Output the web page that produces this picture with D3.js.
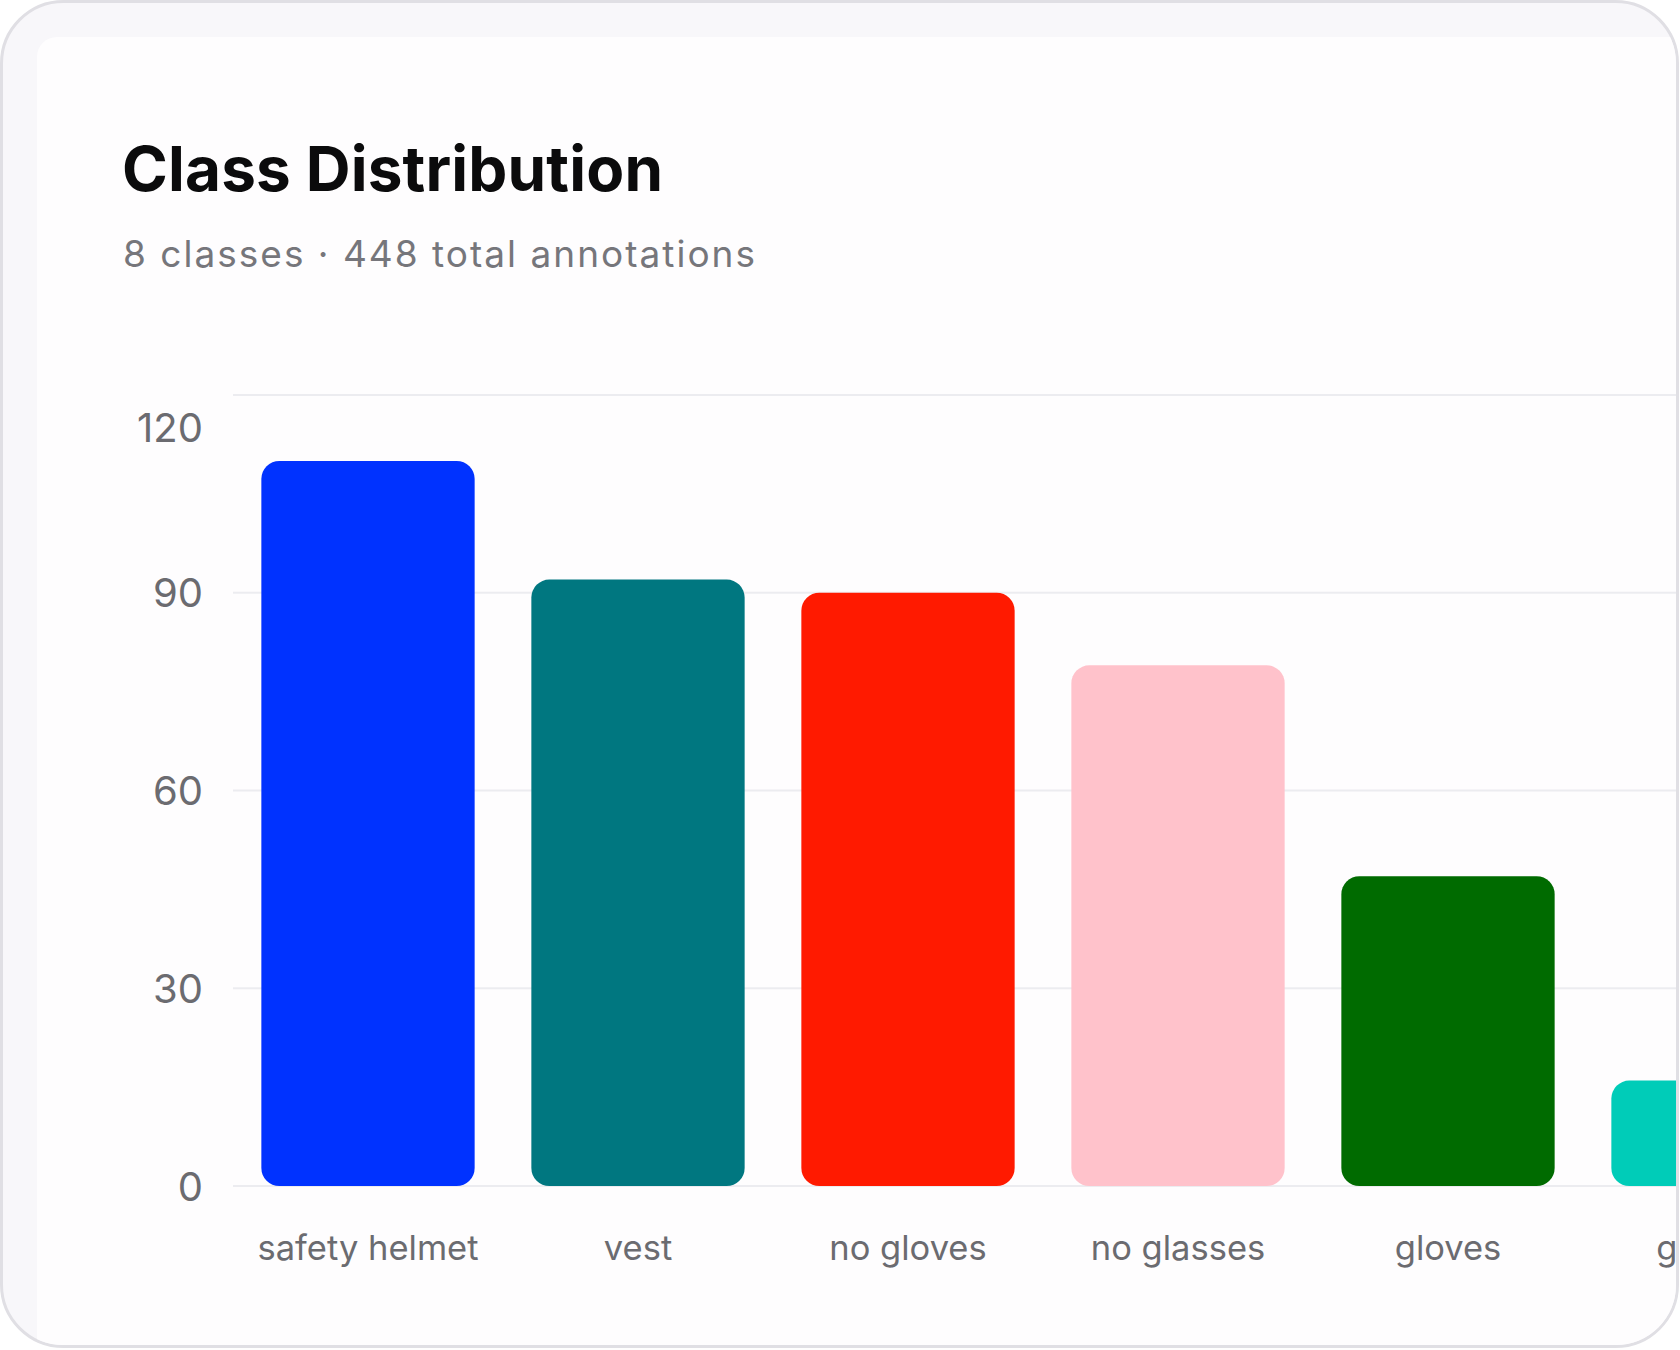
<!DOCTYPE html>
<html>
<head>
<meta charset="utf-8">
<script src="https://cdn.jsdelivr.net/npm/d3@7"></script>
<style>
  body { margin: 0; background: #fff; }
  text { font-family: Inter, 'Noto Sans', sans-serif; }
</style>
</head>
<body>
<script>
// Data
const classes = ['safety helmet', 'vest', 'no gloves', 'no glasses', 'gloves', 'glasses', 'no vest', 'no helmet']
const counts = [110, 92, 90, 79, 47, 16, 9, 5]
const colors = ['#0032ff', '#007780', '#ff1a00', '#ffc2cb', '#006b00', '#00ccb8', '#7a3cc8', '#ff9f1a']
const yTicks = [0, 30, 60, 90, 120]

const width = 1680
const height = 1350
const plotLeft = 233
const step = 270
const plotTop = 395
const plotBottom = 1186

const data = classes.map((c, i) => ({ name: c, count: counts[i], color: colors[i] }))

const svg = d3.select('body')
  .append('svg')
  .attr('width', width)
  .attr('height', height)

// Card
const defs = svg.append('defs')
defs.append('clipPath')
  .attr('id', 'card-clip')
  .append('rect')
  .attr('x', 3)
  .attr('y', 3)
  .attr('width', 1673)
  .attr('height', 1342)
  .attr('rx', 60)

svg.append('rect')
  .attr('x', 1.5)
  .attr('y', 1.5)
  .attr('width', 1676)
  .attr('height', 1345)
  .attr('rx', 62)
  .attr('fill', '#f8f7fa')
  .attr('stroke', '#e0dfe4')
  .attr('stroke-width', 3)

const inner = svg.append('g')
  .attr('clip-path', 'url(#card-clip)')

inner.append('rect')
  .attr('x', 37)
  .attr('y', 37)
  .attr('width', 1700)
  .attr('height', 1400)
  .attr('rx', 20)
  .attr('fill', '#fefdfe')

// Title
svg.append('text')
  .attr('x', 122)
  .attr('y', 191)
  .attr('font-size', 62)
  .attr('font-weight', 700)
  .attr('fill', '#0b0b0c')
  .attr('textLength', 541)
  .text('Class Distribution')

svg.append('text')
  .attr('x', 123)
  .attr('y', 267)
  .attr('font-size', 37)
  .attr('fill', '#76767b')
  .attr('textLength', 632)
  .text(`${classes.length} classes · ${d3.sum(counts)} total annotations`)

// Scales
const xScale = d3.scaleBand()
  .domain(classes)
  .range([plotLeft, plotLeft + step * classes.length])
  .paddingInner(0.21)
  .paddingOuter(0.105)

const yScale = d3.scaleLinear()
  .domain([0, 120])
  .range([plotBottom, plotTop])

// Grid lines
inner.append('g')
  .selectAll('line')
  .data(yTicks)
  .enter()
  .append('line')
  .attr('x1', plotLeft)
  .attr('x2', 1700)
  .attr('y1', d => yScale(d))
  .attr('y2', d => yScale(d))
  .attr('stroke', '#ececf0')
  .attr('stroke-width', 2)

// Y axis labels
const yAxis = d3.axisLeft(yScale)
  .tickValues(yTicks)
  .tickSize(0)
  .tickPadding(30)

const yAxisG = svg.append('g')
  .attr('transform', `translate(${plotLeft}, 0)`)
  .call(yAxis)
yAxisG.select('.domain').remove()
yAxisG.selectAll('text')
  .attr('font-size', 40)
  .attr('font-family', 'Inter, sans-serif')
  .attr('fill', '#6b6b70')
  .attr('dy', d => d === 120 ? '1.15em' : '0.35em')

// Bars
inner.append('g')
  .selectAll('rect')
  .data(data)
  .enter()
  .append('rect')
  .attr('x', d => xScale(d.name))
  .attr('y', d => yScale(d.count))
  .attr('width', xScale.bandwidth())
  .attr('height', d => yScale(0) - yScale(d.count))
  .attr('rx', 18)
  .attr('fill', d => d.color)

// X axis labels
const xAxis = d3.axisBottom(xScale)
  .tickSize(0)
  .tickPadding(0)

const xAxisG = inner.append('g')
  .attr('transform', `translate(0, 1260)`)
  .call(xAxis)
xAxisG.select('.domain').remove()
xAxisG.selectAll('text')
  .attr('font-size', 34.5)
  .attr('font-family', 'Inter, sans-serif')
  .attr('fill', '#6b6b70')
  .attr('dy', 0)
</script>
</body>
</html>
